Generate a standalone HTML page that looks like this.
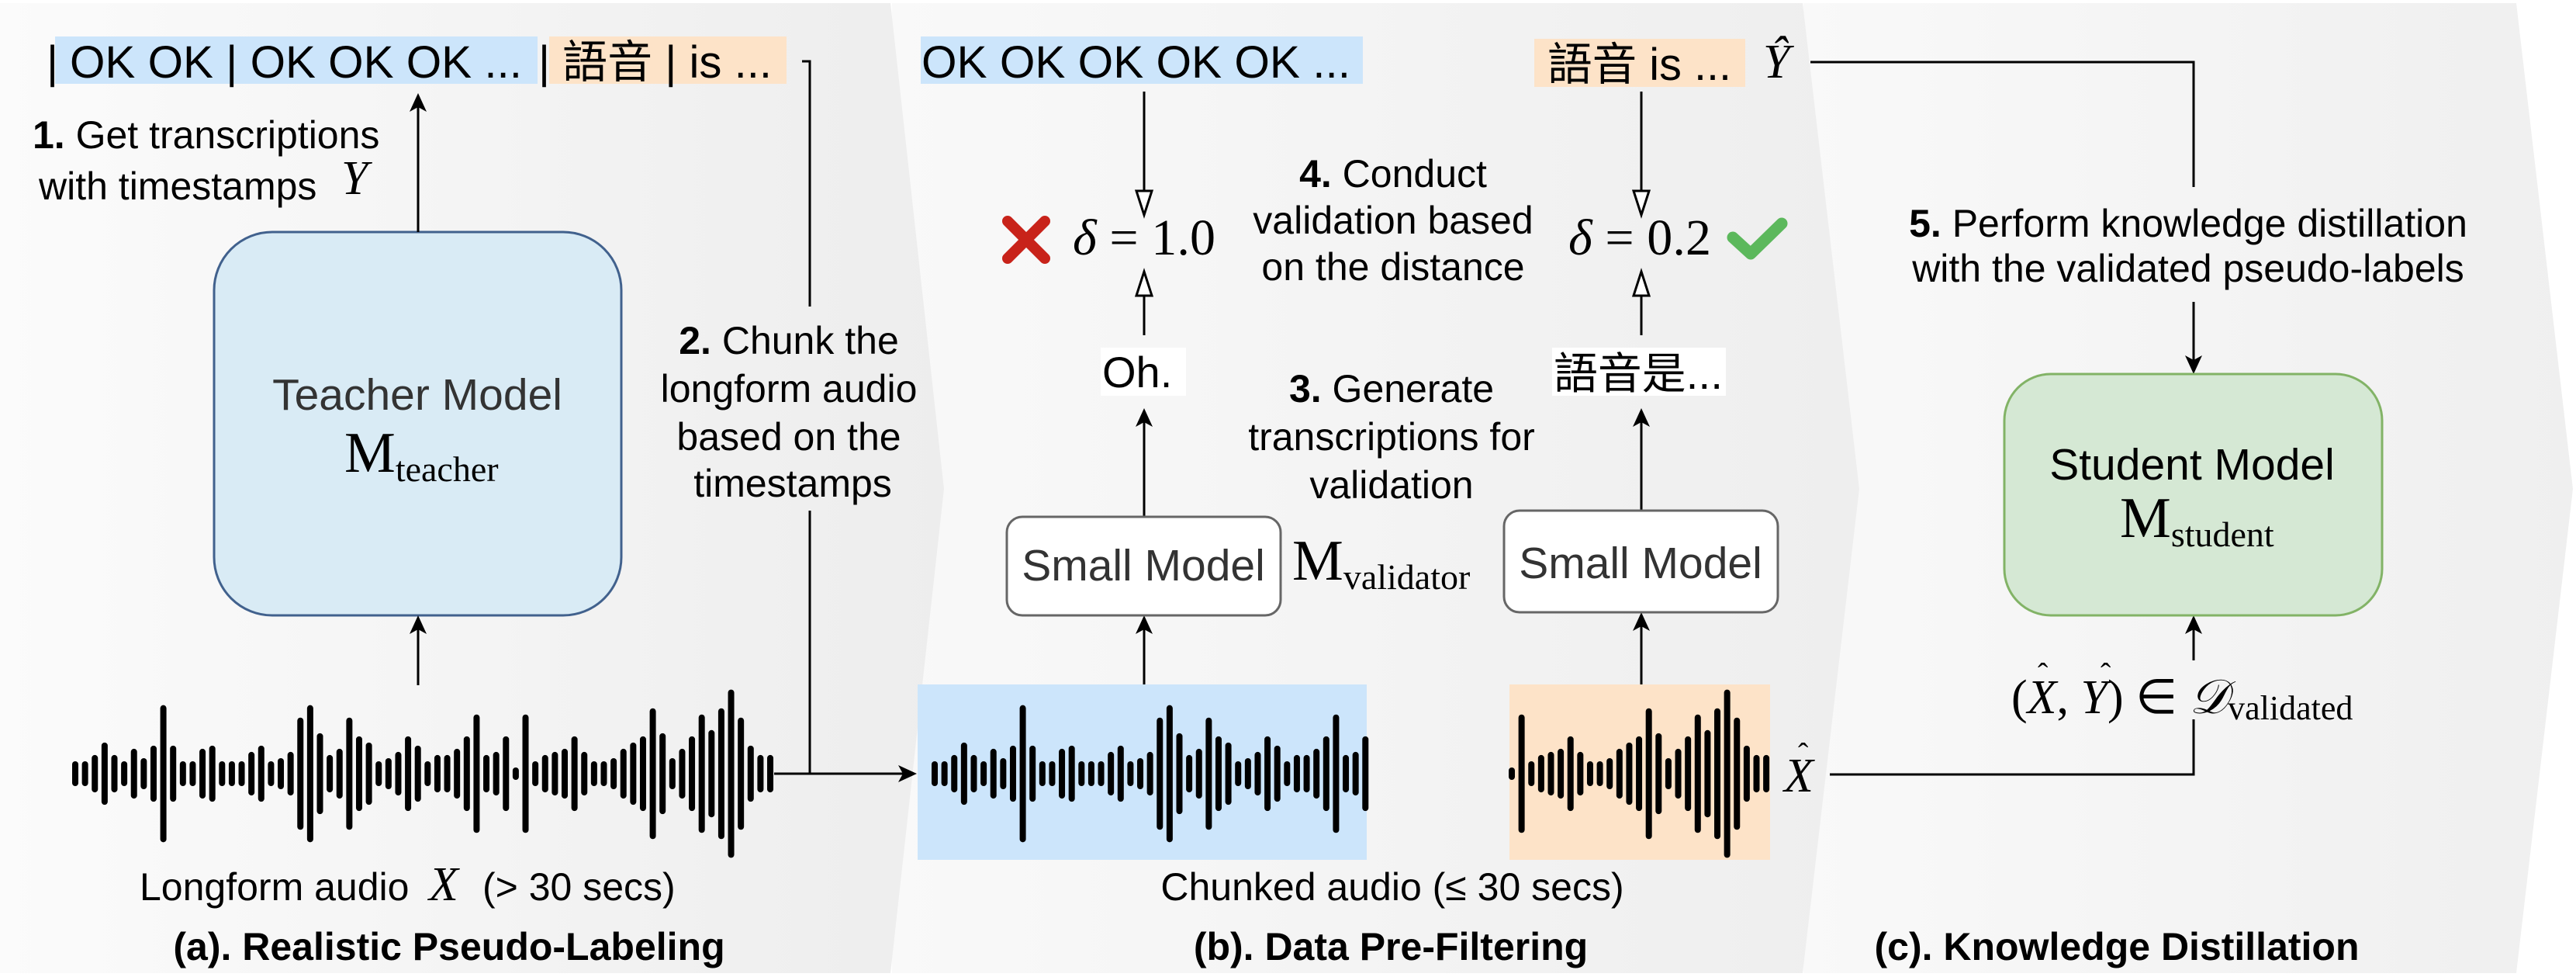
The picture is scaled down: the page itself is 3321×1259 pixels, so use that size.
<!DOCTYPE html>
<html><head><meta charset="utf-8"><style>
html,body{margin:0;padding:0;background:#fff;}
svg{display:block;}
.s{font-family:"Liberation Sans","Noto Sans CJK TC",sans-serif;}
.m{font-family:"Liberation Serif",serif;}
</style></head><body>
<svg id="sv" width="3321" height="1259" viewBox="0 0 3321 1259" xmlns="http://www.w3.org/2000/svg">
<defs>
<linearGradient id="ga" x1="0" x2="1" y1="0" y2="0"><stop offset="0" stop-color="#fbfbfb"/><stop offset="1" stop-color="#ededed"/></linearGradient>
<linearGradient id="gb" x1="0" x2="1" y1="0" y2="0"><stop offset="0" stop-color="#f9f9f9"/><stop offset="1" stop-color="#eeeeee"/></linearGradient>
<linearGradient id="gc" x1="0" x2="1" y1="0" y2="0"><stop offset="0" stop-color="#f9f9f9"/><stop offset="1" stop-color="#efefef"/></linearGradient>
</defs>
<rect width="3321" height="1259" fill="#fff"/>
<polygon points="2325,4 3244,4 3317,630 3244,1254 2325,1254" fill="url(#gc)"/>
<polygon points="1150,4 2324,4 2397,630 2324,1254 1150,1254" fill="url(#gb)"/>
<polygon points="0,4 1148,4 1217,630 1148,1254 0,1254" fill="url(#ga)"/>

<g class="s" font-size="58" fill="#000">
<rect x="71" y="47" width="622" height="61" fill="#cce5fb"/>
<rect x="708" y="47" width="306" height="61" fill="#fde3c8"/>
<text x="60" y="100">|</text>
<text x="90" y="100" textLength="583" lengthAdjust="spacingAndGlyphs">OK OK | OK OK OK ...</text>
<text x="694" y="100">|</text>
<text x="725" y="100" textLength="270" lengthAdjust="spacingAndGlyphs">語音 | is ...</text>
<rect x="1187" y="47" width="570" height="61" fill="#cce5fb"/>
<text x="1188" y="100" textLength="553" lengthAdjust="spacingAndGlyphs">OK OK OK OK OK ...</text>
<rect x="1978" y="50" width="272" height="62" fill="#fde3c8"/>
<text x="1995" y="103" textLength="237" lengthAdjust="spacingAndGlyphs">語音 is ...</text>
</g>

<!-- panel a -->
<g class="s" font-size="50" fill="#000">
<text x="42" y="191"><tspan font-weight="bold">1.</tspan> Get transcriptions</text>
<text x="50" y="257">with timestamps</text>
<text x="1017" y="456" text-anchor="middle"><tspan font-weight="bold">2.</tspan> Chunk the</text>
<text x="1017" y="518" text-anchor="middle">longform audio</text>
<text x="1017" y="580" text-anchor="middle">based on the</text>
<text x="1022" y="640" text-anchor="middle">timestamps</text>
<text x="180" y="1160">Longform audio</text>
<text x="622" y="1160">(&gt; 30 secs)</text>
<text x="579" y="1237" text-anchor="middle" font-weight="bold">(a). Realistic Pseudo-Labeling</text>
</g>
<text class="m" x="440" y="250" font-size="62" font-style="italic">Y</text>
<text class="m" x="553" y="1160" font-size="62" font-style="italic">X</text>

<rect x="276" y="299" width="525" height="494" rx="75" fill="#d9ebf5" stroke="#41618d" stroke-width="3"/>
<text class="s" x="538" y="528" font-size="57" fill="#333" text-anchor="middle">Teacher Model</text>
<text class="m" x="444" y="608" font-size="74">M<tspan font-size="46" dy="12">teacher</tspan></text>

<g stroke="#000" stroke-width="3" fill="none">
<path d="M539 299 L539 130"/>
<path d="M539 883 L539 803"/>
<path d="M1034 79 L1044 79 L1044 395 M1044 658 L1044 997 M998 997 L1170 997"/>
<path d="M1475 118 L1475 250 M1475 432 L1475 380 M1475 666 L1475 536 M1475 882 L1475 803"/>
<path d="M2116 118 L2116 250 M2116 432 L2116 380 M2116 658 L2116 536 M2116 882 L2116 799"/>
<path d="M2334 80 L2828 80 L2828 241 M2828 389 L2828 472"/>
<path d="M2359 998 L2828 998 L2828 927 M2828 851 L2828 803"/>
</g>
<g fill="#000">
<polygon points="539,120 528,144 539,138 550,144"/>
<polygon points="539,793 528,817 539,811 550,817"/>
<polygon points="1182,997 1158,986 1164,997 1158,1008"/>
<polygon points="1475,526 1464,550 1475,544 1486,550"/>
<polygon points="1475,793 1464,817 1475,811 1486,817"/>
<polygon points="2116,526 2105,550 2116,544 2127,550"/>
<polygon points="2116,789 2105,813 2116,807 2127,813"/>
<polygon points="2828,482 2817,458 2828,464 2839,458"/>
<polygon points="2828,793 2817,817 2828,811 2839,817"/>
</g>
<g fill="#fff" stroke="#000" stroke-width="3">
<polygon points="1475,277 1465,246 1485,246"/>
<polygon points="1475,350 1465,381 1485,381"/>
<polygon points="2116,277 2106,246 2126,246"/>
<polygon points="2116,350 2106,381 2126,381"/>
</g>

<!-- panel b -->
<path d="M1299 285 L1347 333 M1347 285 L1299 333" stroke="#c8231a" stroke-width="14" stroke-linecap="round"/>
<path d="M2234 306 L2257 327 L2297 288" stroke="#5cb85c" stroke-width="15" stroke-linecap="round" stroke-linejoin="round" fill="none"/>
<text class="m" x="1383" y="328" font-size="66" textLength="184" lengthAdjust="spacing"><tspan font-style="italic">δ</tspan> = 1.0</text>
<text class="m" x="2022" y="328" font-size="66" textLength="184" lengthAdjust="spacing"><tspan font-style="italic">δ</tspan> = 0.2</text>

<rect x="1419" y="448" width="110" height="62" fill="#fff"/>
<text class="s" x="1421" y="499" font-size="56">Oh.</text>
<rect x="2001" y="448" width="224" height="62" fill="#fff"/>
<text class="s" x="2003" y="501" font-size="56" textLength="218" lengthAdjust="spacingAndGlyphs">語音是...</text>

<rect x="1298" y="666" width="353" height="127" rx="20" fill="#fff" stroke="#666" stroke-width="3"/>
<text class="s" x="1474" y="748" font-size="57" fill="#333" text-anchor="middle">Small Model</text>
<rect x="1939" y="658" width="353" height="131" rx="20" fill="#fff" stroke="#666" stroke-width="3"/>
<text class="s" x="2115" y="745" font-size="57" fill="#333" text-anchor="middle">Small Model</text>
<text class="m" x="1666" y="747" font-size="74">M<tspan font-size="46" dy="12">validator</tspan></text>

<g class="s" font-size="50" fill="#000" text-anchor="middle">
<text x="1796" y="241"><tspan font-weight="bold">4.</tspan> Conduct</text>
<text x="1796" y="301">validation based</text>
<text x="1796" y="361">on the distance</text>
<text x="1794" y="518"><tspan font-weight="bold">3.</tspan> Generate</text>
<text x="1794" y="580">transcriptions for</text>
<text x="1794" y="642">validation</text>
<text x="1795" y="1160">Chunked audio (≤ 30 secs)</text>
<text x="1793" y="1237" font-weight="bold">(b). Data Pre-Filtering</text>
<text x="2821" y="305"><tspan font-weight="bold">5.</tspan> Perform knowledge distillation</text>
<text x="2821" y="363">with the validated pseudo-labels</text>
<text x="2729" y="1237" font-weight="bold">(c). Knowledge Distillation</text>
</g>

<rect x="1183" y="882" width="579" height="226" fill="#cce5fb"/>
<rect x="1946" y="882" width="336" height="226" fill="#fde3c8"/>
<g id="wa" stroke="#000" stroke-width="8" stroke-linecap="round"></g>

<text class="m" x="2273" y="100" font-size="62" font-style="italic">Ŷ</text>
<text class="m" x="2300" y="1020" font-size="62" font-style="italic">X</text>
<text class="m" x="2318" y="985" font-size="40">ˆ</text>

<!-- panel c -->
<rect x="2584" y="482" width="487" height="311" rx="60" fill="#d5e8d4" stroke="#82b366" stroke-width="3"/>
<text class="s" x="2826" y="618" font-size="57" fill="#000" text-anchor="middle">Student Model</text>
<text class="m" x="2733" y="692" font-size="74">M<tspan font-size="46" dy="12">student</tspan></text>
<text class="m" x="2593" y="919" font-size="62">(<tspan font-style="italic">X</tspan>, <tspan font-style="italic">Y</tspan>) ∈ <tspan font-style="italic">𝒟</tspan><tspan font-size="44" dy="8">validated</tspan></text>
<text class="m" x="2627" y="882" font-size="40">ˆ</text>
<text class="m" x="2708" y="882" font-size="40">ˆ</text>
</svg>
<script>
var H=[15,15,25,45,25,15,35,20,40,105,40,15,15,35,40,15,15,15,30,40,15,20,30,85,105,60,25,35,85,55,45,15,20,30,55,40,15,25,25,35,55,90,25,30,55,5,90,15,25,30,35,55,30,15,15,20,35,45,55,100,60,20,35,55,90,65,100,130,85,40,25,25];
var g=document.getElementById('wa'),ns='http://www.w3.org/2000/svg',st=12.62;
function bar(x,h){var l=document.createElementNS(ns,'line');var hh=Math.max(h*0.803,4);l.setAttribute('x1',x);l.setAttribute('x2',x);l.setAttribute('y1',997-hh);l.setAttribute('y2',997+hh);g.appendChild(l);}
for(var i=0;i<H.length;i++)bar(97+i*st,H[i]);
for(var i=0;i<=44;i++)bar(1205+i*st,H[i]);
for(var i=45;i<H.length;i++)bar(1949+(i-45)*st,H[i]);
</script>
</body></html>
